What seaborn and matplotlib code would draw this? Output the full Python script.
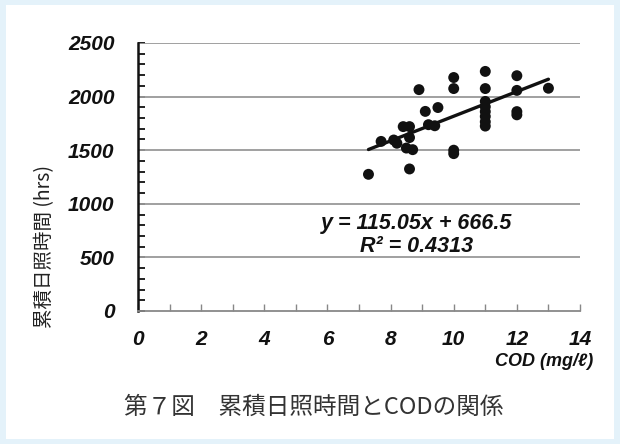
import matplotlib
matplotlib.use("Agg")
import matplotlib.pyplot as plt
import seaborn as sns
import pandas as pd
from matplotlib.patches import Rectangle
from matplotlib.ticker import MultipleLocator

# ---- data ----
cod = [7.3, 7.7, 8.1, 8.2, 8.4, 8.6, 8.6, 8.5, 8.7, 8.6,
       8.9, 9.1, 9.2, 9.4, 9.5, 10.0, 10.0, 10.0, 10.0,
       11.0, 11.0, 11.0, 11.0, 11.0, 11.0, 11.0, 11.0,
       12.0, 12.0, 12.0, 12.0, 13.0]
sunshine = [1275, 1582, 1595, 1565, 1720, 1720, 1618, 1520, 1505, 1325,
            2065, 1862, 1738, 1728, 1898, 2178, 2075, 1500, 1468,
            2235, 2075, 1955, 1905, 1860, 1815, 1765, 1725,
            2195, 2058, 1860, 1830, 2078]
# trendline coefficients as printed on the chart
slope = 115.05
intercept = 666.5
x_ticks = [0, 2, 4, 6, 8, 10, 12, 14]
y_ticks = [0, 500, 1000, 1500, 2000, 2500]
eq_text = "y = 115.05x + 666.5"
r2_text = "R² = 0.4313"
x_label = "COD (mg/ℓ)"
y_label = "累積日照時間 (hrs)"
caption = "第７図　累積日照時間とCODの関係"

df = pd.DataFrame({"cod": cod, "sun": sunshine})
trend_x = [min(cod), max(cod)]
trend = pd.DataFrame({"cod": trend_x,
                      "sun": [slope * v + intercept for v in trend_x]})

sns.set_theme(style="white")
plt.rcParams['font.family'] = ['Noto Sans CJK JP', 'DejaVu Sans']

NUM_FAMILY = ['Liberation Sans', 'DejaVu Sans']

W, H = 620, 444
fig = plt.figure(figsize=(W / 100, H / 100), dpi=100)
fig.patch.set_facecolor("#e4f2fa")
fig.patches.append(Rectangle((6 / W, 5 / H), 1 - 12 / W, 1 - 10 / H,
                             transform=fig.transFigure, facecolor="white",
                             edgecolor="none", zorder=-10))

ax = fig.add_axes([138 / W, 1 - 311 / H, (580 - 138) / W, (311 - 43) / H])
ax.set_facecolor("none")
ax.set_zorder(5)

sns.lineplot(data=trend, x="cod", y="sun", ax=ax, color="#111111",
             lw=2.4, zorder=3)
sns.scatterplot(data=df, x="cod", y="sun", ax=ax, color="#111111",
                s=62, edgecolor="none", zorder=4)

ax.set_xlim(0, 14)
ax.set_ylim(0, 2500)
ax.set_xticks(x_ticks)
ax.set_yticks(y_ticks)
ax.xaxis.set_minor_locator(MultipleLocator(1))
ax.yaxis.set_minor_locator(MultipleLocator(100))
ax.set_xlabel("")
ax.set_ylabel("")

for y in y_ticks[1:]:
    ax.axhline(y, color="#999999", lw=1.3, zorder=1)

for s in ["top", "right"]:
    ax.spines[s].set_visible(False)
ax.spines["left"].set_color("#111111")
ax.spines["left"].set_linewidth(1.8)
ax.spines["bottom"].set_color("#888888")
ax.spines["bottom"].set_linewidth(1.3)

ax.tick_params(axis="y", which="both", direction="in", left=True,
               color="#111111", width=1.3, length=5, pad=17)
ax.tick_params(axis="x", which="both", direction="in", bottom=True,
               color="#888888", width=1.0, length=5, pad=14)
for lab in ax.get_xticklabels() + ax.get_yticklabels():
    lab.set_fontfamily(NUM_FAMILY)
    lab.set_fontweight('bold')
    lab.set_fontstyle('italic')
    lab.set_fontsize(15)
    lab.set_color("#111111")

eq_font = dict(family=NUM_FAMILY, weight='bold', style='italic', size=15.5,
               color="#111111")
ax.text(0.631, 0.328, eq_text, transform=ax.transAxes, ha="center",
        va="center", **eq_font)
ax.text(0.631, 0.242, r2_text, transform=ax.transAxes, ha="center",
        va="center", **eq_font)

fig.text(593 / W, 1 - 361 / H, x_label, ha="right", va="center",
         family=NUM_FAMILY, weight='bold', style='italic', size=13,
         color="#111111")
fig.text(45 / W, 1 - 246 / H, y_label, rotation=90, ha="center",
         va="center", size=14, color="#222222",
         family=['Noto Sans CJK JP', 'DejaVu Sans'])
fig.text(314 / W, 1 - 407 / H, caption, ha="center", va="center",
         size=17, color="#333333",
         family=['Noto Sans CJK JP', 'DejaVu Sans'])

fig.savefig("out.png", dpi=100, facecolor=fig.get_facecolor())
